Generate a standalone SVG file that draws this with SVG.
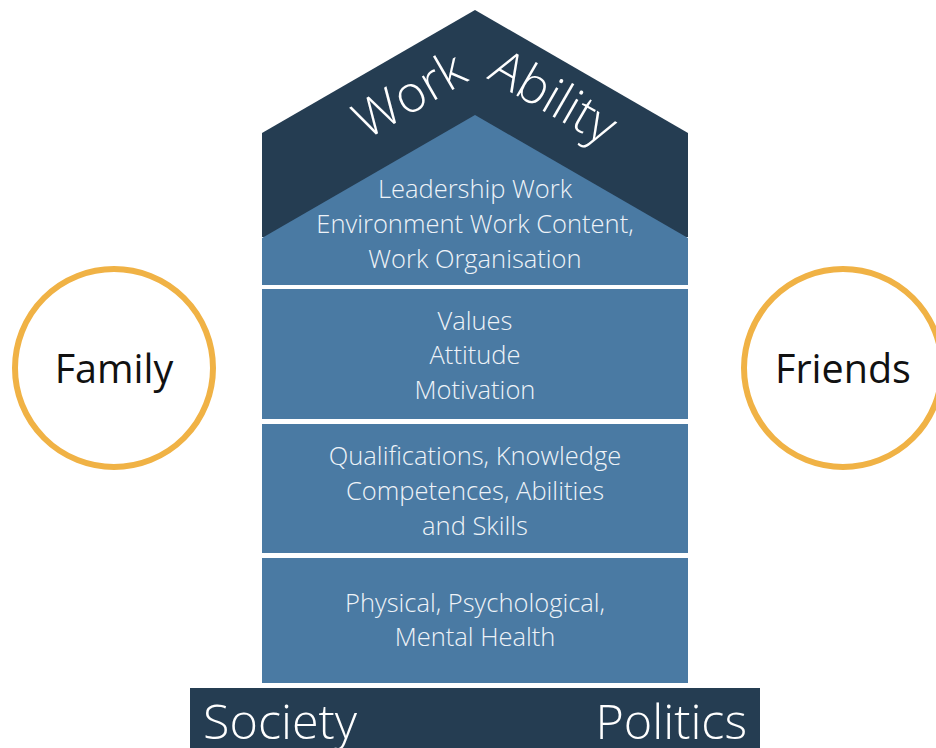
<svg xmlns="http://www.w3.org/2000/svg" width="936" height="748" viewBox="0 0 936 748">
<style>
.dark{fill:#253d52}
.light{fill:#4a7aa3}
.bt{font-family:"Open Sans","Noto Sans",sans-serif;font-weight:300;font-size:25.5px;fill:#eef3f8;text-anchor:middle}
.circ{fill:#fff;stroke:#f0b245;stroke-width:6}
.ct{font-family:"Open Sans","Noto Sans",sans-serif;font-size:39.5px;fill:#111;text-anchor:middle}
.big{font-family:"Open Sans","Noto Sans",sans-serif;font-weight:300;fill:#fff}
</style>
<rect width="936" height="748" fill="#fff"/>
<g id="roof">
<polygon class="dark" points="475,10 688,133 688,237 262,237 262,133"/>
<text class="big" font-size="51" text-anchor="end" transform="translate(470,80) rotate(-30)">Work</text>
<text class="big" font-size="51" text-anchor="start" transform="translate(486,78) rotate(30)">Ability</text>
</g>
<g id="block1">
<polygon class="light" points="475,115 688,238 688,285 262,285 262,238"/>
<text class="bt" x="475" y="198">Leadership Work</text>
<text class="bt" x="475" y="233">Environment Work Content,</text>
<text class="bt" x="475" y="268">Work Organisation</text>
</g>
<g id="block2">
<rect class="light" x="262" y="289" width="426" height="130"/>
<text class="bt" x="475" y="330">Values</text>
<text class="bt" x="475" y="364">Attitude</text>
<text class="bt" x="475" y="399">Motivation</text>
</g>
<g id="block3">
<rect class="light" x="262" y="424" width="426" height="129"/>
<text class="bt" x="475" y="465">Qualifications, Knowledge</text>
<text class="bt" x="475" y="500">Competences, Abilities</text>
<text class="bt" x="475" y="535">and Skills</text>
</g>
<g id="block4">
<rect class="light" x="262" y="558" width="426" height="125"/>
<text class="bt" x="475" y="612">Physical, Psychological,</text>
<text class="bt" x="475" y="646">Mental Health</text>
</g>
<g id="base">
<rect class="dark" x="190" y="688" width="570" height="60"/>
<text class="big" font-size="48.5" x="203" y="739">Society</text>
<text class="big" font-size="48.5" x="747" y="739" text-anchor="end">Politics</text>
</g>
<g id="family">
<circle class="circ" cx="114" cy="368" r="99"/>
<text class="ct" x="114" y="383">Family</text>
</g>
<g id="friends">
<circle class="circ" cx="843" cy="368" r="99"/>
<text class="ct" x="843" y="383">Friends</text>
</g>
<g id="connectors"></g>
</svg>
